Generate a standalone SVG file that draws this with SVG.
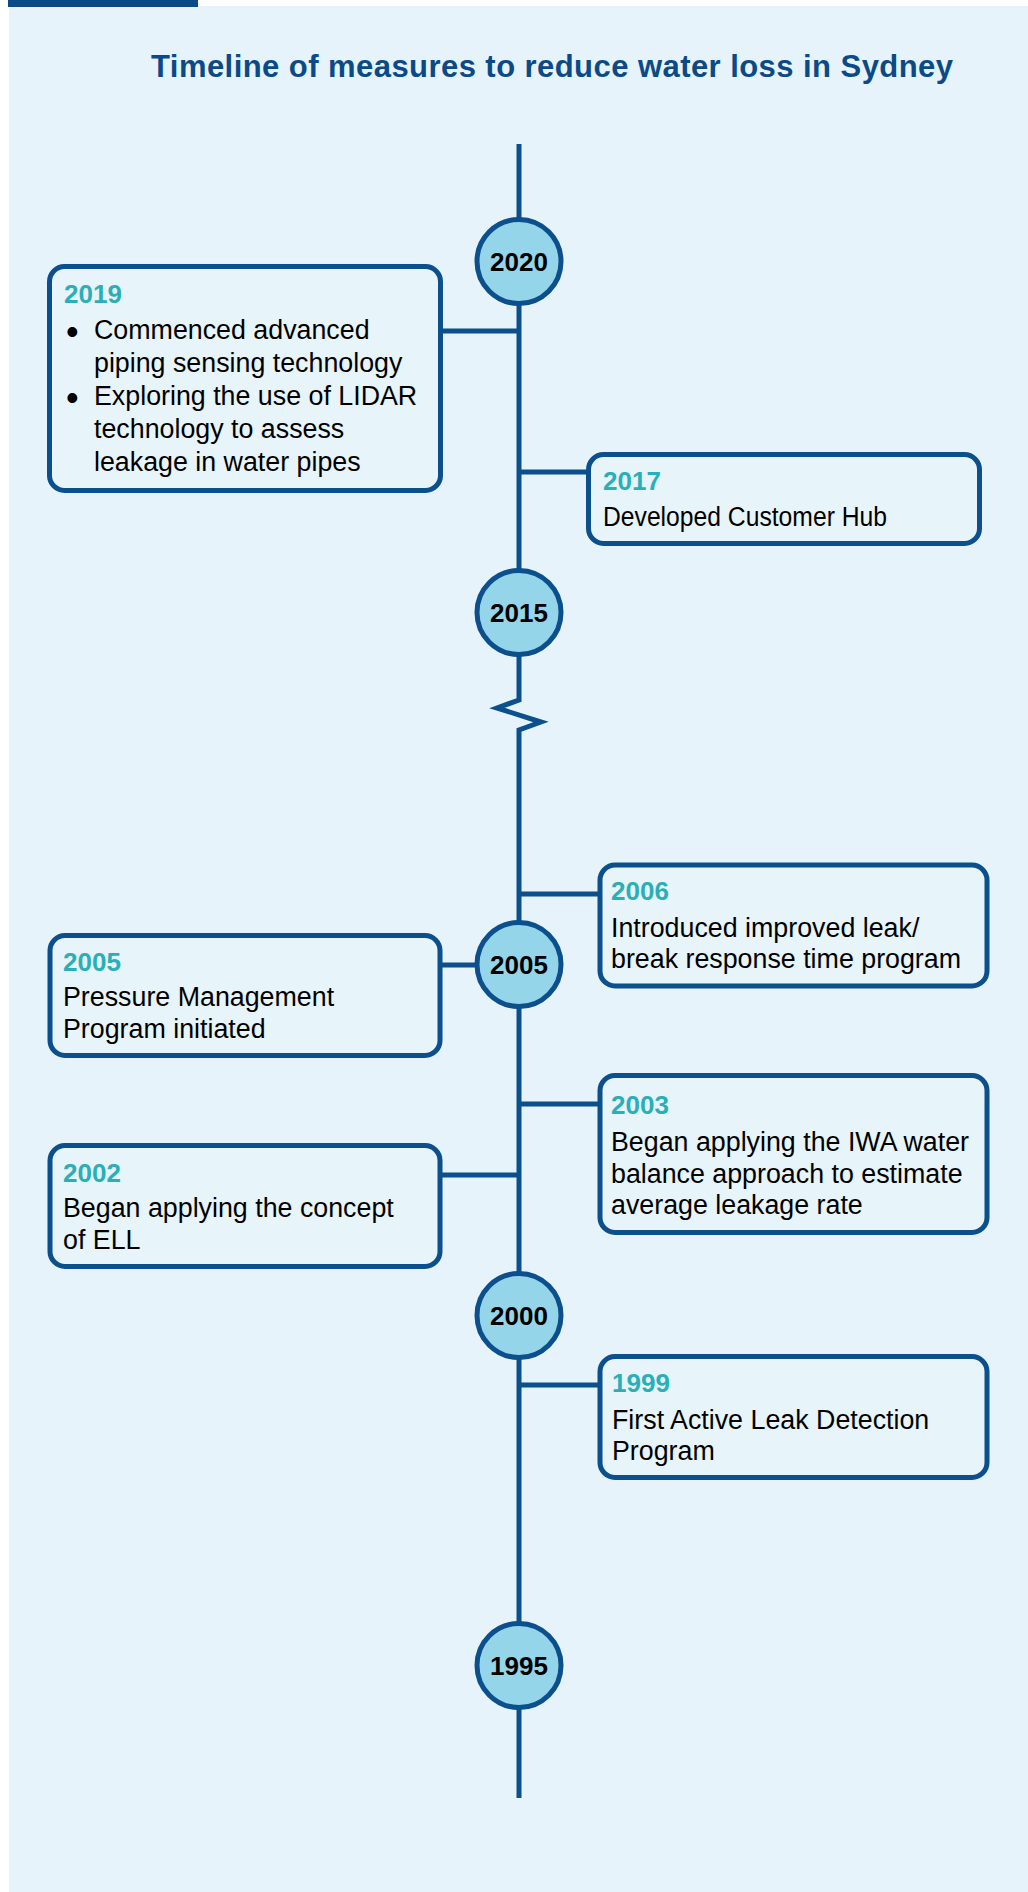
<svg xmlns="http://www.w3.org/2000/svg" width="1028" height="1892" viewBox="0 0 1028 1892">
  <style>
    text { font-family: "Liberation Sans", Arial, sans-serif; }
    .title { font-size: 31px; font-weight: bold; fill: #0b4a88; }
    .yr { font-size: 26px; font-weight: bold; fill: #000; text-anchor: middle; }
    .ev { font-size: 26px; font-weight: bold; fill: #2aaeb7; }
    .body { font-size: 26.8px; fill: #000; }
    .bul { font-size: 36px; fill: #000; }
    .box { fill: #e7f4fa; stroke: #0b4f8c; stroke-width: 5; }
    .dot { fill: #95d5e9; stroke: #0b4f8c; stroke-width: 5; }
    .ln { fill: none; stroke: #0b4f8c; stroke-width: 5; stroke-linejoin: miter; }
  </style>

  <rect x="0" y="0" width="1028" height="1892" fill="#ffffff"/>
  <rect x="9" y="6" width="1019" height="1886" fill="#e6f3fa"/>
  <rect x="8" y="0" width="190" height="7" fill="#0a4a87"/>

  <text class="title" x="151" y="77" textLength="802" lengthAdjust="spacing">Timeline of measures to reduce water loss in Sydney</text>

  <g id="connectors">
    <path class="ln" d="M519,144 V700 L497,708 L541,722 L519,730 V1798"/>
    <line class="ln" x1="443" y1="331" x2="519" y2="331"/>
    <line class="ln" x1="519" y1="472" x2="587" y2="472"/>
    <line class="ln" x1="519" y1="894" x2="598" y2="894"/>
    <line class="ln" x1="442" y1="965" x2="519" y2="965"/>
    <line class="ln" x1="519" y1="1104" x2="598" y2="1104"/>
    <line class="ln" x1="442" y1="1175" x2="519" y2="1175"/>
    <line class="ln" x1="519" y1="1385" x2="598" y2="1385"/>
  </g>

  <g id="y2020">
    <circle class="dot" cx="519" cy="261.5" r="42"/>
    <text class="yr" x="519" y="271">2020</text>
  </g>
  <g id="y2015">
    <circle class="dot" cx="519" cy="612.5" r="42"/>
    <text class="yr" x="519" y="622">2015</text>
  </g>
  <g id="y2005">
    <circle class="dot" cx="519" cy="964.5" r="42"/>
    <text class="yr" x="519" y="974">2005</text>
  </g>
  <g id="y2000">
    <circle class="dot" cx="519" cy="1315.5" r="42"/>
    <text class="yr" x="519" y="1325">2000</text>
  </g>
  <g id="y1995">
    <circle class="dot" cx="519" cy="1665.5" r="42"/>
    <text class="yr" x="519" y="1675">1995</text>
  </g>

  <g id="e2019">
    <rect class="box" x="49.5" y="266.5" width="391" height="224" rx="15"/>
    <text class="ev" x="64" y="303">2019</text>
    <text class="bul" x="66" y="344">•</text>
    <text class="body" x="94" y="339">Commenced advanced</text>
    <text class="body" x="94" y="372">piping sensing technology</text>
    <text class="bul" x="66" y="410">•</text>
    <text class="body" x="94" y="405">Exploring the use of LIDAR</text>
    <text class="body" x="94" y="438">technology to assess</text>
    <text class="body" x="94" y="471">leakage in water pipes</text>
  </g>

  <g id="e2017">
    <rect class="box" x="588.5" y="454.5" width="391" height="89" rx="15"/>
    <text class="ev" x="603" y="490">2017</text>
    <text class="body" x="603" y="526" textLength="284" lengthAdjust="spacingAndGlyphs">Developed Customer Hub</text>
  </g>

  <g id="e2006">
    <rect class="box" x="600" y="865" width="387" height="121" rx="15"/>
    <text class="ev" x="611" y="900">2006</text>
    <text class="body" x="611" y="937">Introduced improved leak/</text>
    <text class="body" x="611" y="968">break response time program</text>
  </g>

  <g id="e2005">
    <rect class="box" x="50" y="935.5" width="390" height="120" rx="15"/>
    <text class="ev" x="63" y="971">2005</text>
    <text class="body" x="63" y="1006">Pressure Management</text>
    <text class="body" x="63" y="1038">Program initiated</text>
  </g>

  <g id="e2003">
    <rect class="box" x="600" y="1075.5" width="387" height="157" rx="15"/>
    <text class="ev" x="611" y="1114">2003</text>
    <text class="body" x="611" y="1151">Began applying the IWA water</text>
    <text class="body" x="611" y="1183">balance approach to estimate</text>
    <text class="body" x="611" y="1214">average leakage rate</text>
  </g>

  <g id="e2002">
    <rect class="box" x="50" y="1145.5" width="390" height="121" rx="15"/>
    <text class="ev" x="63" y="1182">2002</text>
    <text class="body" x="63" y="1217">Began applying the concept</text>
    <text class="body" x="63" y="1249">of ELL</text>
  </g>

  <g id="e1999">
    <rect class="box" x="600" y="1356.5" width="387" height="121" rx="15"/>
    <text class="ev" x="612" y="1392">1999</text>
    <text class="body" x="612" y="1429">First Active Leak Detection</text>
    <text class="body" x="612" y="1460">Program</text>
  </g>
</svg>
